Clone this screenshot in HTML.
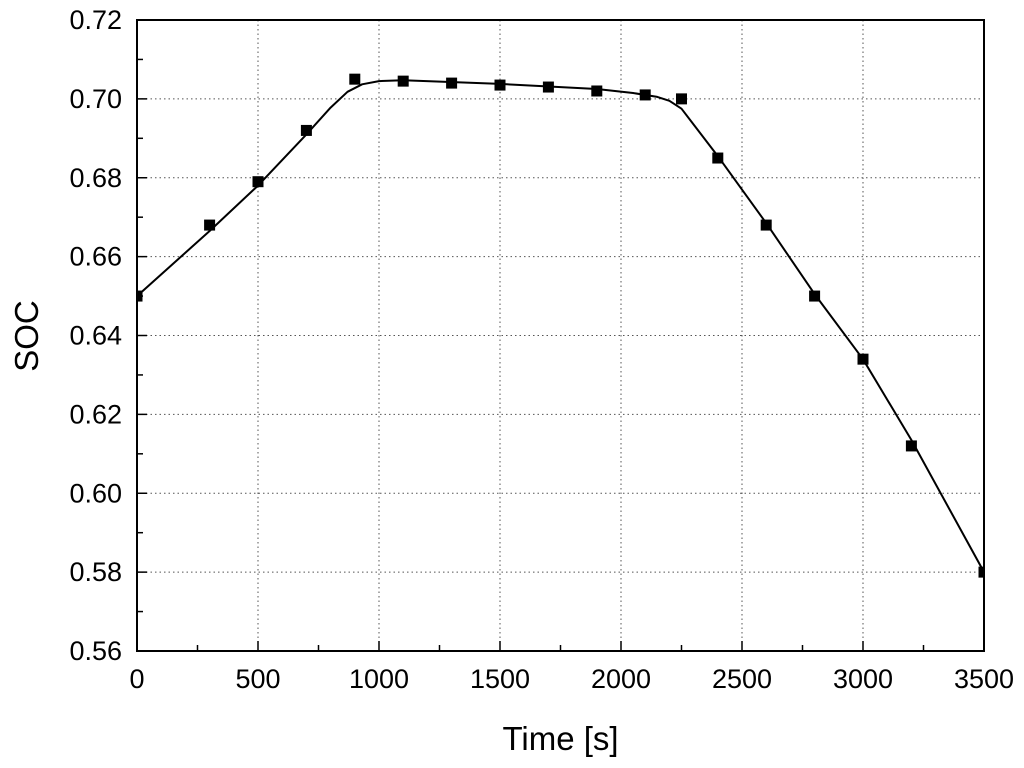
<!DOCTYPE html>
<html><head><meta charset="utf-8"><style>
html,body{margin:0;padding:0;background:#fff;}
svg{display:block;font-family:"Liberation Sans",Arial,sans-serif;}
</style></head><body>
<svg id="chart" width="1024" height="768"></svg>
<script>
const xTicks=[0,500,1000,1500,2000,2500,3000,3500];
const yTicks=[0.56,0.58,0.60,0.62,0.64,0.66,0.68,0.70,0.72];
const yTickLabels=["0.56","0.58","0.60","0.62","0.64","0.66","0.68","0.70","0.72"];
const times=[0,300,500,700,900,1100,1300,1500,1700,1900,2100,2250,2400,2600,2800,3000,3200,3500];
const socValues=[0.650,0.668,0.679,0.692,0.705,0.7045,0.704,0.7035,0.703,0.702,0.701,0.700,0.685,0.668,0.650,0.634,0.612,0.580];
const fitTimes=[0,300,500,700,800,870,930,1000,1100,1500,1900,2050,2150,2200,2250,2300,2400,2600,2800,3000,3200,3500];
const fitValues=[0.650,0.6665,0.678,0.691,0.6978,0.7018,0.7037,0.7045,0.7047,0.7038,0.7025,0.7015,0.7005,0.6995,0.6975,0.6935,0.6855,0.6685,0.6505,0.634,0.6135,0.580];
const L=137,R=984,T=20,B=651;
const x=v=>L+(v-0)/3500*(R-L);
const y=v=>B-(v-0.56)/0.16*(B-T);
const svg=document.getElementById('chart');
const NS='http://www.w3.org/2000/svg';
function mk(tag,attrs,parent){const e=document.createElementNS(NS,tag);for(const k in attrs)e.setAttribute(k,attrs[k]);(parent||svg).appendChild(e);return e;}
const defs=mk('defs',{});
const cp=mk('clipPath',{id:'clip'},defs);mk('rect',{x:L,y:T,width:R-L,height:B-T},cp);
xTicks.forEach(t=>{if(t>0&&t<3500){const g=mk('line',{x1:x(t),x2:x(t),y1:T,y2:B,stroke:'#555','stroke-width':1,'stroke-dasharray':'1.5,3'});

}});
yTicks.forEach(t=>{if(t>0.561&&t<0.719){const g=mk('line',{x1:L,x2:R,y1:y(t),y2:y(t),stroke:'#555','stroke-width':1,'stroke-dasharray':'1.5,3'});

}});
for(let t=0;t<=3500;t+=250){const maj=t%500===0;const tk=mk('line',{x1:x(t),x2:x(t),y1:B,y2:B-(maj?10:6),stroke:'#000','stroke-width':1.5});

}
for(let i=0;i<=16;i++){const t=0.56+i*0.01;const maj=i%2===0;const tk=mk('line',{x1:L,x2:L+(maj?10:6),y1:y(t),y2:y(t),stroke:'#000','stroke-width':1.5});

}
xTicks.forEach(t=>{const tx=mk('text',{x:x(t),y:B+37,'font-size':27,'text-anchor':'middle',fill:'#000'});tx.textContent=String(t);

});
yTicks.forEach((t,i)=>{const tx=mk('text',{x:L-15,y:y(t)+9,'font-size':27,'text-anchor':'end',fill:'#000'});tx.textContent=yTickLabels[i];

});
const g=mk('g',{'clip-path':'url(#clip)'});


let d='';fitTimes.forEach((t,i)=>{d+=(i?'L':'M')+x(t).toFixed(1)+','+y(fitValues[i]).toFixed(1);});
const line=mk('path',{d:d,fill:'none',stroke:'#000','stroke-width':2,'stroke-linejoin':'round'},g);


times.forEach((t,i)=>{const r=mk('rect',{x:x(t)-5.5,y:y(socValues[i])-5.5,width:11,height:11,fill:'#000'},g);

});
const fr=mk('rect',{x:L,y:T,width:R-L,height:B-T,fill:'none',stroke:'#000','stroke-width':2});


const xl=mk('text',{x:(L+R)/2,y:750,'font-size':33,'text-anchor':'middle',fill:'#000'});xl.textContent='Time [s]';


const yl=mk('text',{x:0,y:0,'font-size':33,'text-anchor':'middle',fill:'#000',transform:'translate(38,336) rotate(-90)'});yl.textContent='SOC';


</script>
</body></html>
